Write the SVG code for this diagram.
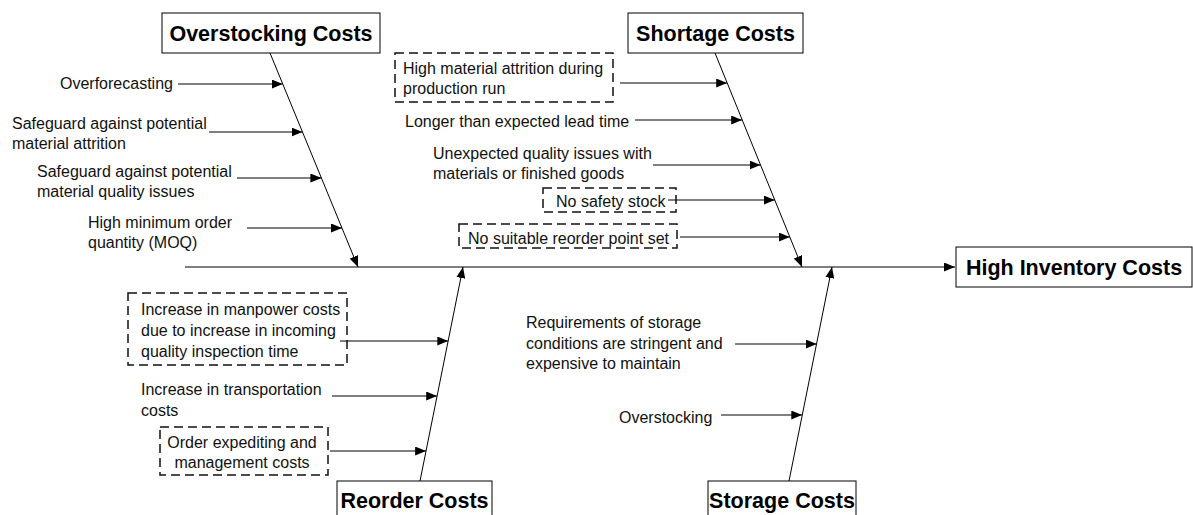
<svg xmlns="http://www.w3.org/2000/svg" width="1193" height="515" viewBox="0 0 1193 515">
  <style>
    .lbl { font-family: "Liberation Sans", Arial, sans-serif; font-size: 16px; fill: #111; }
    .ttl { font-family: "Liberation Sans", Arial, sans-serif; font-size: 21.5px; font-weight: bold; fill: #000; text-anchor: middle; }
    .box { fill: #fff; stroke: #000; stroke-width: 1; }
    .dash { fill: none; stroke: #111; stroke-width: 1.5; stroke-dasharray: 9 5; }
    .ln { fill: none; stroke: #000; stroke-width: 1; marker-end: url(#ah); }
  </style>
  <defs>
    <marker id="ah" viewBox="0 0 11 9" refX="11" refY="4.5" markerWidth="11" markerHeight="9" markerUnits="userSpaceOnUse" orient="auto">
      <path d="M0,0 L11,4.5 L0,9 z" fill="#000"/>
    </marker>
  </defs>
  <rect width="1193" height="515" fill="#fff"/>

  <!-- connectors: spine, category bones, cause arrows -->
  <g id="connectors">
    <line class="ln" x1="185" y1="267" x2="955" y2="267"/>
    <line class="ln" x1="270" y1="53" x2="358" y2="267"/>
    <line class="ln" x1="715" y1="53" x2="802" y2="267"/>
    <line class="ln" x1="420" y1="481" x2="463" y2="267"/>
    <line class="ln" x1="789" y1="481" x2="832" y2="267"/>

    <line class="ln" x1="178" y1="84" x2="282.7" y2="84"/>
    <line class="ln" x1="209" y1="132" x2="302.5" y2="132"/>
    <line class="ln" x1="237" y1="178" x2="321.4" y2="178"/>
    <line class="ln" x1="247" y1="228" x2="342" y2="228"/>

    <line class="ln" x1="620" y1="83" x2="727.2" y2="83"/>
    <line class="ln" x1="635" y1="120" x2="742.2" y2="120"/>
    <line class="ln" x1="653" y1="165" x2="760.5" y2="165"/>
    <line class="ln" x1="668" y1="200" x2="774.8" y2="200"/>
    <line class="ln" x1="680" y1="237" x2="789.8" y2="237"/>

    <line class="ln" x1="340" y1="341" x2="448.3" y2="341"/>
    <line class="ln" x1="332" y1="396" x2="437.2" y2="396"/>
    <line class="ln" x1="330" y1="451" x2="426.1" y2="451"/>

    <line class="ln" x1="735" y1="344" x2="816.7" y2="344"/>
    <line class="ln" x1="721" y1="415" x2="802.3" y2="415"/>
  </g>

  <!-- effect -->
  <g id="high-inventory-costs">
    <rect class="box" x="956" y="247" width="236" height="40"/>
    <text class="ttl" x="1074" y="275">High Inventory Costs</text>
  </g>

  <!-- categories -->
  <g id="overstocking-costs">
    <rect class="box" x="162" y="13" width="218" height="40"/>
    <text class="ttl" x="271" y="41">Overstocking Costs</text>
  </g>
  <g id="shortage-costs">
    <rect class="box" x="628" y="13" width="175" height="40"/>
    <text class="ttl" x="715.5" y="41">Shortage Costs</text>
  </g>
  <g id="reorder-costs">
    <rect class="box" x="337" y="481" width="155" height="45"/>
    <text class="ttl" x="414.5" y="508">Reorder Costs</text>
  </g>
  <g id="storage-costs">
    <rect class="box" x="708" y="481" width="148" height="45"/>
    <text class="ttl" x="782" y="508">Storage Costs</text>
  </g>

  <!-- overstocking causes -->
  <g id="overforecasting">
    <text class="lbl" x="60" y="89">Overforecasting</text>
  </g>
  <g id="safeguard-attrition">
    <text class="lbl" x="12" y="128.5">Safeguard against potential</text>
    <text class="lbl" x="12" y="148.5">material attrition</text>
  </g>
  <g id="safeguard-quality">
    <text class="lbl" x="37" y="176.5">Safeguard against potential</text>
    <text class="lbl" x="37" y="197">material quality issues</text>
  </g>
  <g id="high-moq">
    <text class="lbl" x="88" y="227.5">High minimum order</text>
    <text class="lbl" x="88" y="248">quantity (MOQ)</text>
  </g>

  <!-- shortage causes -->
  <g id="material-attrition">
    <rect class="dash" x="395" y="53" width="218" height="49"/>
    <text class="lbl" x="403" y="74">High material attrition during</text>
    <text class="lbl" x="403" y="94">production run</text>
  </g>
  <g id="long-lead-time">
    <text class="lbl" x="405" y="126.5">Longer than expected lead time</text>
  </g>
  <g id="unexpected-quality">
    <text class="lbl" x="433" y="159">Unexpected quality issues with</text>
    <text class="lbl" x="433" y="179">materials or finished goods</text>
  </g>
  <g id="no-safety-stock">
    <rect class="dash" x="543" y="188" width="133" height="24"/>
    <text class="lbl" x="556" y="206.5">No safety stock</text>
  </g>
  <g id="no-reorder-point">
    <rect class="dash" x="459" y="224" width="218" height="24"/>
    <text class="lbl" x="468" y="243.5">No suitable reorder point set</text>
  </g>

  <!-- reorder causes -->
  <g id="manpower-costs">
    <rect class="dash" x="128" y="293" width="219" height="72"/>
    <text class="lbl" x="141" y="315">Increase in manpower costs</text>
    <text class="lbl" x="141" y="336">due to increase in incoming</text>
    <text class="lbl" x="141" y="356.5">quality inspection time</text>
  </g>
  <g id="transportation-costs">
    <text class="lbl" x="141" y="395">Increase in transportation</text>
    <text class="lbl" x="141" y="415.5">costs</text>
  </g>
  <g id="order-expediting">
    <rect class="dash" x="160" y="427" width="168" height="48"/>
    <text class="lbl" x="242" y="448" text-anchor="middle">Order expediting and</text>
    <text class="lbl" x="242" y="468" text-anchor="middle">management costs</text>
  </g>

  <!-- storage causes -->
  <g id="storage-requirements">
    <text class="lbl" x="526" y="328">Requirements of storage</text>
    <text class="lbl" x="526" y="348.5">conditions are stringent and</text>
    <text class="lbl" x="526" y="369">expensive to maintain</text>
  </g>
  <g id="overstocking">
    <text class="lbl" x="619" y="422.5">Overstocking</text>
  </g>
</svg>
